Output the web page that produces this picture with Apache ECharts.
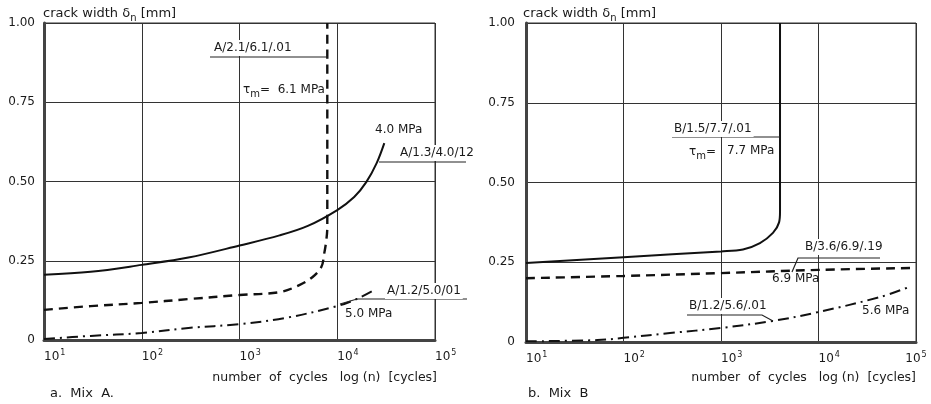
<!DOCTYPE html>
<html>
<head>
<meta charset="utf-8">
<script src="https://cdn.jsdelivr.net/npm/echarts@6/dist/echarts.min.js"></script>
<style>
  html, body { margin: 0; background: #fff; }
  #chart { width: 931px; height: 404px; }
</style>
</head>
<body>
<div id="chart"></div>
<script>
// tick labels
const yTickLabels = {0: '0', 0.25: '0.25', 0.5: '0.50', 0.75: '0.75', 1: '1.00'};
const xTickExponents = [1, 2, 3, 4, 5];

// Mix A  (number of cycles, crack width mm)
const cyclesA_40 = [10, 30, 100, 300, 1000, 2570, 5000, 10000, 14900, 19800, 25300, 30300];
const widthA_40  = [0.206, 0.215, 0.237, 0.26, 0.298, 0.33, 0.36, 0.41, 0.451, 0.498, 0.558, 0.621];
const cyclesA_61 = [10, 30, 100, 300, 1000, 2570, 4090, 5560, 6870, 7370, 7730, 7910, 7910];
const widthA_61  = [0.095, 0.107, 0.117, 0.129, 0.142, 0.151, 0.173, 0.198, 0.23, 0.274, 0.315, 0.356, 1.0];
const cyclesA_50 = [10, 30, 100, 300, 1000, 3000, 10000, 16000, 24000];
const widthA_50  = [0.003, 0.013, 0.022, 0.038, 0.05, 0.07, 0.107, 0.13, 0.158];

// Mix B
const cyclesB_77 = [10, 100, 1000, 1680, 2510, 3410, 3940, 4030, 4030];
const widthB_77  = [0.248, 0.266, 0.284, 0.29, 0.31, 0.342, 0.375, 0.41, 1.0];
const cyclesB_69 = [10, 100, 1000, 10000, 90000];
const widthB_69  = [0.2, 0.207, 0.216, 0.226, 0.232];
const cyclesB_56 = [10, 54, 100, 300, 1000, 3400, 10000, 42700, 81000];
const widthB_56  = [0.002, 0.006, 0.013, 0.028, 0.044, 0.066, 0.094, 0.141, 0.17];

const zip = (xs, ys) => xs.map((x, i) => [x, ys[i]]);

const FONT = 'DejaVu Sans';
const INK = '#1a1a1a';

const chart = echarts.init(document.getElementById('chart'), null, {renderer: 'canvas'});

function xAxis(gridIndex, maxAlign) {
  return {
    type: 'log', logBase: 10, min: 10, max: 100000, gridIndex,
    axisLine: {show: true, lineStyle: {color: '#444', width: 3}},
    axisTick: {show: false},
    splitLine: {show: true, lineStyle: {color: '#333', width: 1}},
    axisLabel: {
      color: INK, fontFamily: FONT, fontSize: 12, margin: 9, align: 'left',
      alignMaxLabel: maxAlign,
      formatter: v => {
        const e = Math.round(Math.log10(v));
        return xTickExponents.includes(e) ? '10{sup|' + e + '}' : '';
      },
      rich: {sup: {fontSize: 8, fontFamily: FONT, color: INK, padding: [0, 0, 8, 1]}}
    }
  };
}
function yAxis(gridIndex, margin) {
  return {
    type: 'value', min: 0, max: 1, interval: 0.25, gridIndex,
    axisLine: {show: true, lineStyle: {color: '#444', width: 3}},
    axisTick: {show: false},
    splitLine: {show: true, lineStyle: {color: '#333', width: 1}},
    axisLabel: {color: INK, fontFamily: FONT, fontSize: 12, margin,
      formatter: v => yTickLabels[v] !== undefined ? yTickLabels[v] : ''}
  };
}
function curve(data, idx, type, width) {
  return {
    type: 'line', data, xAxisIndex: idx, yAxisIndex: idx,
    symbol: 'none', smooth: 0.35, animation: false,
    lineStyle: {color: '#111', width, type}
  };
}

const DASH = [9, 6];
const DASHDOT = [11, 5, 2, 5];

function txt(x, y, text, extra) {
  return {type: 'text', x, y, z: 100, style: Object.assign({
    text, fill: INK, fontFamily: FONT, fontSize: 12, verticalAlign: 'middle',
    rich: {
      sub: {fontSize: 10, fontFamily: FONT, fill: INK, padding: [8, 0, 0, 0]}
    }
  }, extra || {})};
}
function poly(points, w) {
  return {type: 'polyline', z: 90, shape: {points}, style: {stroke: '#222', lineWidth: w || 1.2, fill: null}};
}
const WHITE = {backgroundColor: '#fff', padding: [2, 2]};
const BIG = {fontSize: 13};

chart.setOption({
  animation: false,
  grid: [
    {left: 44, top: 23, width: 391, height: 317, show: true, borderColor: '#333', borderWidth: 1,
     outerBoundsMode: 'none', containLabel: false},
    {left: 526, top: 23, width: 390, height: 319, show: true, borderColor: '#333', borderWidth: 1,
     outerBoundsMode: 'none', containLabel: false}
  ],
  xAxis: [xAxis(0, 'left'), xAxis(1, 'center')],
  yAxis: [yAxis(0, 9), yAxis(1, 11)],
  series: [
    curve(zip(cyclesA_40, widthA_40), 0, 'solid', 2),
    curve(zip(cyclesA_61, widthA_61), 0, DASH, 2.4),
    curve(zip(cyclesA_50, widthA_50), 0, DASHDOT, 2),
    curve(zip(cyclesB_77, widthB_77), 1, 'solid', 2),
    curve(zip(cyclesB_69, widthB_69), 1, DASH, 2.4),
    curve(zip(cyclesB_56, widthB_56), 1, DASHDOT, 2)
  ],
  graphic: [
    // Mix A
    txt(43, 14, 'crack width δ{sub|n} [mm]', BIG),
    txt(212, 48, 'A/2.1/6.1/.01', WHITE),
    poly([[210, 57], [328, 57]]),
    txt(243, 90, 'τ{sub|m}=  6.1 MPa'),
    txt(375, 130, '4.0 MPa'),
    txt(398, 153, 'A/1.3/4.0/12', WHITE),
    poly([[379, 162], [466, 162]]),
    txt(385, 291, 'A/1.2/5.0/01', WHITE),
    poly([[340, 304], [357, 299], [467, 299]]),
    txt(345, 314, '5.0 MPa'),
    txt(437, 378, 'number  of  cycles   log (n)  [cycles]', {align: 'right', fontSize: 12.5}),
    txt(50, 394, 'a.  Mix  A.', BIG),
    // Mix B
    txt(523, 14, 'crack width δ{sub|n} [mm]', BIG),
    txt(672, 129, 'B/1.5/7.7/.01', WHITE),
    poly([[672, 137], [780, 137]]),
    txt(716, 152, 'τ{sub|m}=', {align: 'right'}),
    txt(727, 151, '7.7 MPa'),
    txt(803, 247, 'B/3.6/6.9/.19', WHITE),
    poly([[792, 272], [798, 258], [880, 258]]),
    txt(772, 279, '6.9 MPa'),
    txt(687, 306, 'B/1.2/5.6/.01', WHITE),
    poly([[687, 315], [762, 315], [773, 321]]),
    txt(862, 311, '5.6 MPa'),
    txt(916, 378, 'number  of  cycles   log (n)  [cycles]', {align: 'right', fontSize: 12.5}),
    txt(528, 394, 'b.  Mix  B', BIG)
  ]
});
</script>
</body>
</html>
